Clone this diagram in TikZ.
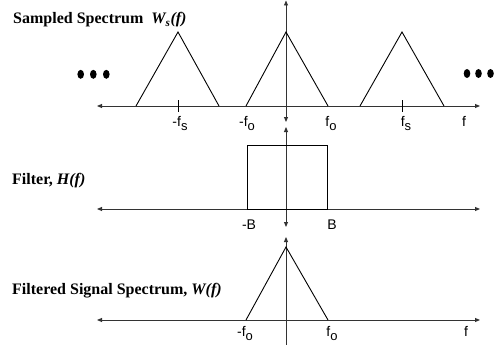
\documentclass[tikz,border=0pt]{standalone}
\usepackage{fontspec}
\setmainfont{Liberation Serif}
\newfontfamily\arialfont{Liberation Sans}
\usetikzlibrary{arrows.meta}
\begin{document}
\begin{tikzpicture}[x=1pt,y=-1pt,
  axisline/.style={line width=0.9pt, black!80, {Triangle[length=5pt,width=4pt]}-{Triangle[length=5pt,width=4pt]}},
  upaxis/.style={line width=0.9pt, black!80, -{Triangle[length=5pt,width=4pt]}},
  spec/.style={line width=0.9pt, black},
  tickmark/.style={line width=0.9pt, black},
  titletext/.style={anchor=base west, inner sep=0pt, font=\fontsize{16}{19}\selectfont\bfseries},
  lab/.style={anchor=base, inner sep=0pt, font=\arialfont\fontsize{14}{16}\selectfont},
  dot/.style={fill=black, draw=none, ellipse radius},
]
\newcommand{\lsub}[1]{\raisebox{-4.5pt}{\fontsize{13}{15}\selectfont #1}}
\useasboundingbox (0,0) rectangle (495,345);

% ---------- titles ----------
\node[titletext] (t1) at (13,24) {Sampled Spectrum\ \ \textit{W\textsubscript{s}(f)}};
\node[titletext] (t2) at (12,184) {Filter, \textit{H(f)}};
\node[titletext] (t3) at (12,294) {Filtered Signal Spectrum, \textit{W(f)}};

% ---------- top panel ----------
\coordinate (a1l) at (97,106);
\coordinate (a1r) at (480,106);
\coordinate (v1t) at (286,0.5);
\coordinate (v1b) at (286,122);
\draw[axisline] (a1l) -- (a1r);
\draw[axisline] (v1b) -- (v1t);

\draw[spec] (136,106) -- (178,32) -- (219,106);
\draw[spec] (246,106) -- (286,32) -- (328,106);
\draw[spec] (360,106) -- (402,32) -- (444,106);
\draw[tickmark] (178,100) -- (178,112);
\draw[tickmark] (402,100) -- (402,112);

\node[lab] (l1) at (180,126) {-f\lsub{s}};
\node[lab] (l2) at (247,126) {-f\lsub{o}};
\node[lab] (l3) at (331,126) {f\lsub{o}};
\node[lab] (l4) at (406,126) {f\lsub{s}};
\node[lab] (l5) at (464,126) {f};

\fill (80.7,74.3) ellipse (3.3 and 4.5);
\fill (93.3,74.3) ellipse (3.3 and 4.5);
\fill (106.3,74.3) ellipse (3.3 and 4.5);
\fill (467,73.5) ellipse (3.3 and 4.5);
\fill (478.5,73.5) ellipse (3.3 and 4.5);
\fill (490.5,73.5) ellipse (3.3 and 4.5);

% ---------- filter panel ----------
\coordinate (a2l) at (97,209);
\coordinate (a2r) at (480,209);
\coordinate (v2t) at (286,127);
\coordinate (v2b) at (286,227);
\draw[axisline] (a2l) -- (a2r);
\draw[axisline] (v2b) -- (v2t);
\draw[spec] (247,209) rectangle (327,145);
\node[lab] (lb1) at (249,229) {-B};
\node[lab] (lb2) at (332,229) {B};

% ---------- bottom panel ----------
\coordinate (a3l) at (97,320);
\coordinate (a3r) at (480,320);
\coordinate (v3t) at (286,237);
\coordinate (v3b) at (286,345);
\draw[axisline] (a3l) -- (a3r);
\draw[upaxis] (v3b) -- (v3t);
\draw[spec] (246,320) -- (286,247) -- (328,320);
\node[lab] (lc1) at (245,336) {-f\lsub{o}};
\node[lab] (lc2) at (332,336) {f\lsub{o}};
\node[lab] (lc3) at (466,336) {f};
\end{tikzpicture}
\end{document}
